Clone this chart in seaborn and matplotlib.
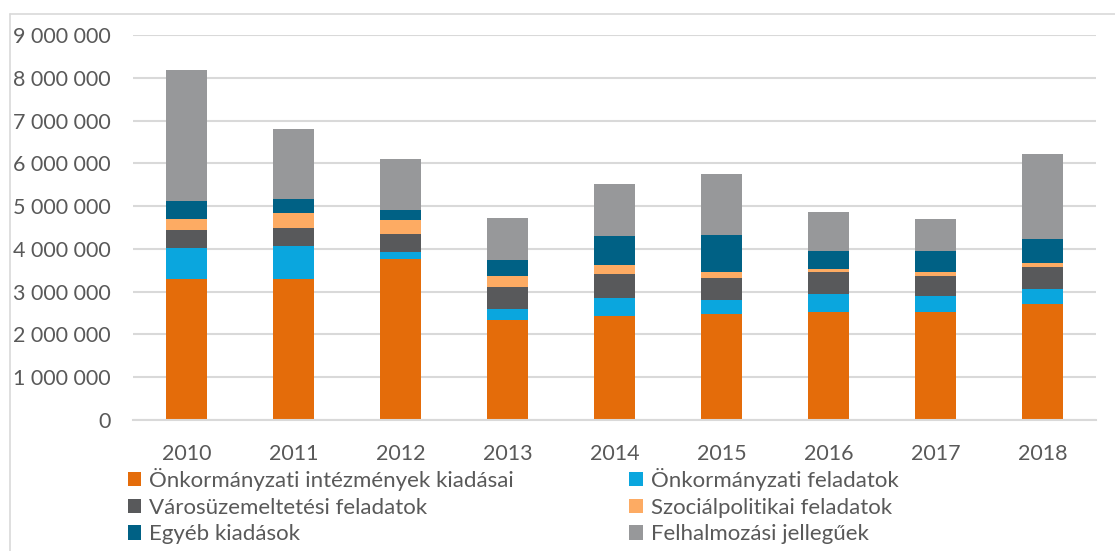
import matplotlib
matplotlib.use("Agg")
import matplotlib.pyplot as plt
from matplotlib.lines import Line2D
from matplotlib.patches import Patch
from matplotlib.ticker import FuncFormatter
import seaborn as sns
import pandas as pd
import numpy as np


years = ["2010", "2011", "2012", "2013", "2014", "2015", "2016", "2017", "2018"]

series_names = [
    "Önkormányzati intézmények kiadásai",
    "Önkormányzati feladatok",
    "Városüzemeltetési feladatok",
    "Szociálpolitikai feladatok",
    "Egyéb kiadások",
    "Felhalmozási jellegűek",
]

intezmenyek = [3290000, 3290000, 3760000, 2340000, 2430000, 2470000, 2530000, 2520000, 2710000]
onk_feladatok = [730000, 770000, 170000, 260000, 420000, 340000, 410000, 380000, 360000]
varosuzem = [410000, 430000, 420000, 510000, 570000, 510000, 510000, 460000, 510000]
szocialpol = [280000, 350000, 320000, 250000, 210000, 130000, 90000, 90000, 90000]
egyeb = [420000, 330000, 250000, 370000, 660000, 880000, 420000, 510000, 570000]
felhalmozasi = [3060000, 1640000, 1170000, 1000000, 1220000, 1430000, 910000, 740000, 1970000]

colors = ["#E46C0A", "#0AA6DE", "#58595B", "#FDAB63", "#006185", "#97989A"]

GRID = "#D9D9D9"
TEXT = "#595959"


def main():
    sns.set_theme(style="white")
    plt.rcParams["font.family"] = ["Lato", "DejaVu Sans"]

    values = [intezmenyek, onk_feladatok, varosuzem, szocialpol, egyeb, felhalmozasi]
    cum = np.cumsum(np.array(values), axis=0)

    fig = plt.figure(figsize=(11.15, 5.51), dpi=100)
    ax = fig.add_axes([133 / 1115, 1 - 420 / 551, (1096 - 133) / 1115, (420 - 35) / 551])

    # draw cumulative totals from the top layer down so each layer covers the next
    for i in range(len(series_names) - 1, -1, -1):
        df = pd.DataFrame({"year": years, "value": cum[i]})
        sns.barplot(data=df, x="year", y="value", color=colors[i], width=0.39,
                    saturation=1, ax=ax, linewidth=0)

    ax.set_ylim(0, 9000000)
    ax.set_yticks(np.arange(0, 9000001, 1000000))
    ax.yaxis.set_major_formatter(FuncFormatter(lambda v, p: f"{int(v):,}".replace(",", " ")))
    ax.set_xlabel("")
    ax.set_ylabel("")
    ax.grid(axis="y", color=GRID, linewidth=1.5)
    ax.set_axisbelow(True)
    for s in ["top", "right", "left"]:
        ax.spines[s].set_visible(False)
    ax.spines["bottom"].set_color(GRID)
    ax.spines["bottom"].set_linewidth(1.5)
    ax.tick_params(axis="both", length=0, labelsize=15.5, labelcolor=TEXT)
    ax.tick_params(axis="x", pad=17)
    ax.tick_params(axis="y", pad=16)

    handles = [Patch(facecolor=c, edgecolor="none") for c in colors]
    order = [0, 2, 4, 1, 3, 5]
    fig.legend([handles[k] for k in order], [series_names[k] for k in order],
               ncol=2, loc="upper left", bbox_to_anchor=(128 / 1115, 1 - 468 / 551),
               frameon=False, fontsize=16, labelcolor=TEXT,
               handlelength=0.6, handleheight=0.6, handletextpad=0.35,
               labelspacing=0.3, columnspacing=5.2, borderaxespad=0, borderpad=0)

    # outer chart border (only top and left visible in the crop)
    fig.add_artist(Line2D([10 / 1115, 1], [1 - 14 / 551, 1 - 14 / 551], color=GRID, linewidth=1.2))
    fig.add_artist(Line2D([10 / 1115, 10 / 1115], [0, 1 - 14 / 551], color=GRID, linewidth=1.2))

    fig.savefig("out.png", dpi=100)
    plt.close(fig)


if __name__ == "__main__":
    main()
